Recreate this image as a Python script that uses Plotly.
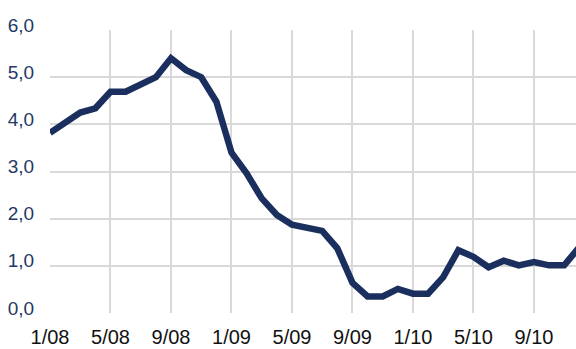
import plotly.graph_objects as go

# Monthly series, January 2008 to December 2010 (percent)
months = [f"{m}/{y:02d}" for y in (8, 9, 10) for m in range(1, 13)]
values = [
    3.82, 4.04, 4.25, 4.34, 4.69, 4.69, 4.83, 5.00, 5.40, 5.15, 5.00, 4.48,
    3.40, 2.96, 2.43, 2.08, 1.87, 1.80, 1.74, 1.37, 0.64, 0.35, 0.35, 0.51,
    0.41, 0.41, 0.76, 1.33, 1.19, 0.97, 1.11, 1.01, 1.08, 1.01, 1.01, 1.40,
]
tick_labels = ["1/08", "5/08", "9/08", "1/09", "5/09", "9/09", "1/10", "5/10", "9/10"]
y_ticks = [0, 1, 2, 3, 4, 5, 6]

x_idx = list(range(len(months)))
tick_pos = [months.index(t) for t in tick_labels]

fig = go.Figure(
    go.Scatter(
        x=x_idx,
        y=values,
        mode="lines",
        line=dict(color="#1b2f5e", width=6.5),
        hoverinfo="skip",
    )
)

grid = "#d9d9d9"
fig.update_layout(
    template="none",
    width=576,
    height=349,
    margin=dict(l=50, r=0, t=30, b=36),
    paper_bgcolor="white",
    plot_bgcolor="white",
    showlegend=False,
    font=dict(family="Liberation Sans, Arial, sans-serif"),
)
fig.update_xaxes(
    automargin=False,
    range=[0, 34.78],
    tickmode="array",
    tickvals=tick_pos,
    ticktext=tick_labels,
    showgrid=True,
    gridcolor=grid,
    gridwidth=1.5,
    zeroline=False,
    showline=False,
    ticks="outside",
    ticklen=6,
    tickcolor="rgba(0,0,0,0)",
    tickfont=dict(size=20, color="#111111"),
)
fig.update_yaxes(
    automargin=False,
    range=[0, 6],
    tickmode="array",
    tickvals=y_ticks,
    ticktext=[f"{v:.1f}".replace(".", ",") for v in y_ticks],
    showgrid=True,
    gridcolor=grid,
    gridwidth=1.5,
    zeroline=False,
    showline=False,
    ticks="outside",
    ticklen=11,
    tickcolor="rgba(0,0,0,0)",
    ticklabelshift=-5,
    tickfont=dict(size=19, color="#1f3864"),
)

fig.write_html("out.html")
